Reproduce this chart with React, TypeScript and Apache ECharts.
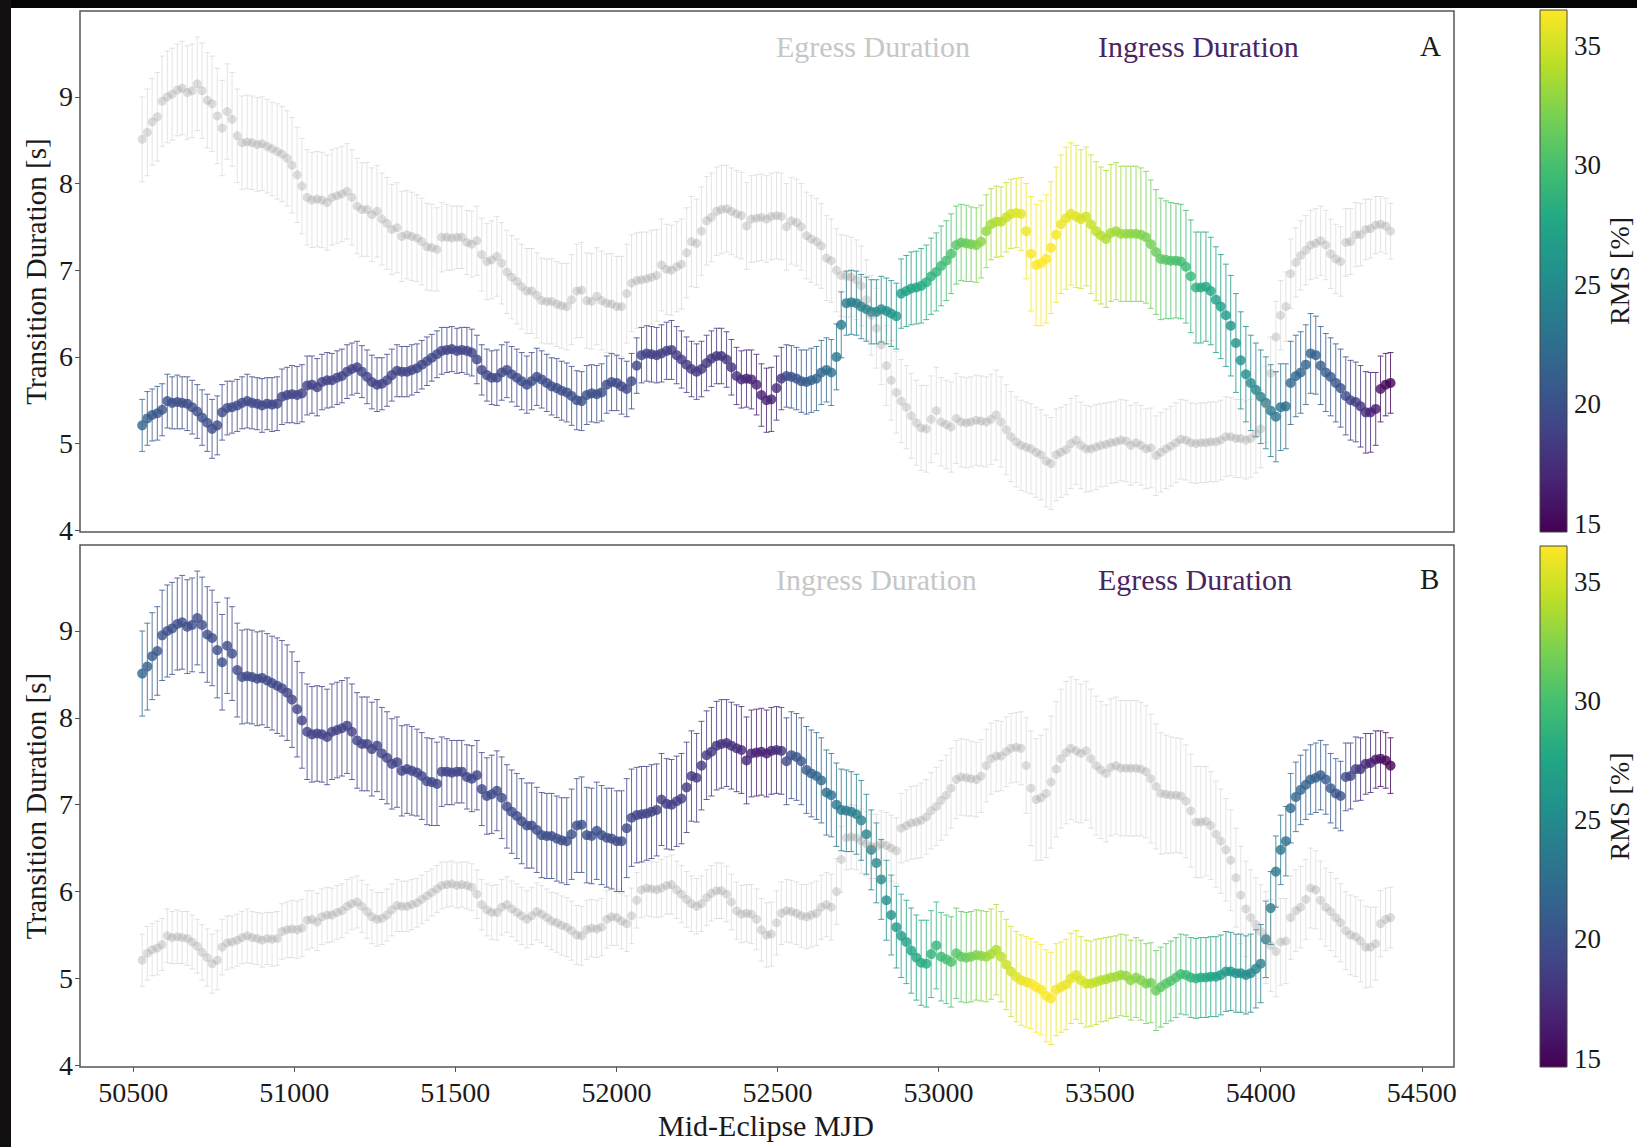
import React, { useEffect, useRef } from 'react';
import * as echarts from 'echarts';

// ---------------- data ----------------
const MJD = [
  50528, 50544, 50559, 50575, 50590, 50606, 50621, 50637, 50652, 50668,
  50683, 50699, 50714, 50730, 50745, 50761, 50776, 50792, 50807, 50823,
  50838, 50854, 50869, 50885, 50900, 50916, 50931, 50947, 50962, 50978,
  50993, 51009, 51024, 51040, 51055, 51071, 51086, 51102, 51117, 51133,
  51148, 51164, 51179, 51195, 51210, 51226, 51241, 51257, 51272, 51288,
  51303, 51319, 51334, 51350, 51365, 51381, 51396, 51412, 51427, 51443,
  51458, 51474, 51489, 51505, 51520, 51536, 51551, 51567, 51582, 51598,
  51613, 51629, 51644, 51660, 51675, 51691, 51706, 51722, 51737, 51753,
  51768, 51784, 51799, 51815, 51830, 51846, 51861, 51877, 51892, 51908,
  51923, 51939, 51954, 51970, 51985, 52001, 52016, 52032, 52047, 52063,
  52078, 52094, 52109, 52125, 52140, 52156, 52171, 52187, 52202, 52218,
  52233, 52249, 52264, 52280, 52295, 52311, 52326, 52342, 52357, 52373,
  52388, 52404, 52419, 52435, 52450, 52466, 52481, 52497, 52512, 52528,
  52543, 52559, 52574, 52590, 52605, 52621, 52636, 52652, 52667, 52683,
  52698, 52714, 52729, 52745, 52760, 52776, 52791, 52807, 52822, 52838,
  52853, 52869, 52884, 52900, 52915, 52931, 52946, 52962, 52977, 52993,
  53008, 53024, 53039, 53055, 53070, 53086, 53101, 53117, 53132, 53148,
  53163, 53179, 53194, 53210, 53225, 53241, 53256, 53272, 53287, 53303,
  53318, 53334, 53349, 53365, 53380, 53396, 53411, 53427, 53442, 53458,
  53473, 53489, 53504, 53520, 53535, 53551, 53566, 53582, 53597, 53613,
  53628, 53644, 53659, 53675, 53690, 53706, 53721, 53737, 53752, 53768,
  53783, 53799, 53814, 53830, 53845, 53861, 53876, 53892, 53907, 53923,
  53938, 53954, 53969, 53985, 54000, 54016, 54031, 54047, 54062, 54078,
  54093, 54109, 54124, 54140, 54155, 54171, 54186, 54202, 54217, 54233,
  54248, 54264, 54279, 54295, 54310, 54326, 54341, 54357, 54372, 54388,
  54403,
];

const INGRESS = [
  5.21, 5.29, 5.33, 5.35, 5.39, 5.49, 5.47, 5.48, 5.47, 5.46,
  5.42, 5.37, 5.30, 5.24, 5.17, 5.21, 5.36, 5.41, 5.42, 5.44,
  5.47, 5.49, 5.47, 5.46, 5.44, 5.46, 5.45, 5.46, 5.54, 5.56,
  5.57, 5.56, 5.58, 5.67, 5.68, 5.65, 5.71, 5.73, 5.73, 5.76,
  5.78, 5.83, 5.86, 5.88, 5.83, 5.77, 5.71, 5.68, 5.69, 5.73,
  5.79, 5.84, 5.83, 5.83, 5.85, 5.87, 5.91, 5.95, 5.99, 6.03,
  6.07, 6.08, 6.09, 6.07, 6.08, 6.07, 6.05, 5.97, 5.85, 5.79,
  5.76, 5.76, 5.82, 5.85, 5.80, 5.76, 5.72, 5.68, 5.72, 5.77,
  5.74, 5.70, 5.66, 5.64, 5.61, 5.59, 5.55, 5.50, 5.49, 5.56,
  5.58, 5.57, 5.59, 5.68, 5.71, 5.70, 5.66, 5.63, 5.72, 5.90,
  6.02, 6.04, 6.03, 6.02, 6.04, 6.07, 6.08, 6.02, 5.97, 5.91,
  5.86, 5.83, 5.86, 5.93, 5.98, 6.01, 6.01, 5.97, 5.88, 5.78,
  5.74, 5.75, 5.74, 5.68, 5.56, 5.50, 5.51, 5.64, 5.75, 5.78,
  5.77, 5.75, 5.72, 5.71, 5.73, 5.75, 5.82, 5.85, 5.82, 6.00,
  6.37, 6.62, 6.63, 6.62, 6.58, 6.55, 6.52, 6.52, 6.55, 6.53,
  6.50, 6.47, 6.73, 6.76, 6.79, 6.80, 6.82, 6.86, 6.93, 6.98,
  7.05, 7.11, 7.19, 7.29, 7.32, 7.31, 7.30, 7.29, 7.33, 7.45,
  7.53, 7.56, 7.56, 7.61, 7.65, 7.66, 7.65, 7.45, 7.19, 7.06,
  7.08, 7.13, 7.26, 7.41, 7.53, 7.60, 7.65, 7.62, 7.59, 7.62,
  7.53, 7.45, 7.40, 7.36, 7.43, 7.45, 7.42, 7.42, 7.42, 7.42,
  7.41, 7.38, 7.30, 7.21, 7.13, 7.12, 7.11, 7.11, 7.10, 7.04,
  6.93, 6.80, 6.80, 6.81, 6.76, 6.66, 6.58, 6.48, 6.36, 6.16,
  5.96, 5.80, 5.70, 5.62, 5.54, 5.47, 5.38, 5.31, 5.42, 5.43,
  5.70, 5.78, 5.82, 5.91, 6.04, 6.02, 5.90, 5.82, 5.77, 5.70,
  5.64, 5.55, 5.50, 5.48, 5.43, 5.36, 5.36, 5.40, 5.63, 5.68,
  5.70,
];

const INGRESS_ERR = [
  0.30, 0.31, 0.30, 0.31, 0.30, 0.31, 0.30, 0.31, 0.30, 0.31,
  0.31, 0.31, 0.32, 0.33, 0.34, 0.34, 0.32, 0.31, 0.30, 0.30,
  0.30, 0.31, 0.30, 0.30, 0.31, 0.30, 0.31, 0.31, 0.32, 0.32,
  0.33, 0.33, 0.33, 0.34, 0.33, 0.33, 0.32, 0.32, 0.31, 0.31,
  0.31, 0.31, 0.30, 0.30, 0.30, 0.31, 0.31, 0.31, 0.30, 0.30,
  0.30, 0.30, 0.29, 0.29, 0.29, 0.28, 0.28, 0.28, 0.27, 0.27,
  0.27, 0.26, 0.26, 0.26, 0.26, 0.27, 0.27, 0.28, 0.29, 0.30,
  0.31, 0.32, 0.32, 0.32, 0.32, 0.33, 0.33, 0.33, 0.33, 0.33,
  0.33, 0.33, 0.33, 0.34, 0.34, 0.34, 0.34, 0.34, 0.34, 0.34,
  0.33, 0.33, 0.33, 0.33, 0.33, 0.32, 0.32, 0.32, 0.32, 0.32,
  0.32, 0.32, 0.32, 0.32, 0.33, 0.33, 0.34, 0.33, 0.33, 0.32,
  0.32, 0.32, 0.32, 0.32, 0.32, 0.32, 0.32, 0.32, 0.32, 0.33,
  0.33, 0.33, 0.34, 0.35, 0.36, 0.37, 0.37, 0.37, 0.36, 0.36,
  0.36, 0.36, 0.36, 0.37, 0.37, 0.37, 0.37, 0.37, 0.38, 0.38,
  0.38, 0.37, 0.37, 0.37, 0.37, 0.37, 0.37, 0.37, 0.38, 0.38,
  0.38, 0.38, 0.40, 0.41, 0.42, 0.42, 0.43, 0.43, 0.44, 0.45,
  0.46, 0.46, 0.46, 0.45, 0.44, 0.44, 0.43, 0.43, 0.42, 0.42,
  0.41, 0.41, 0.40, 0.40, 0.40, 0.40, 0.42, 0.55, 0.66, 0.70,
  0.72, 0.74, 0.76, 0.78, 0.80, 0.82, 0.82, 0.82, 0.80, 0.80,
  0.80, 0.80, 0.79, 0.79, 0.79, 0.79, 0.78, 0.78, 0.78, 0.78,
  0.77, 0.76, 0.74, 0.72, 0.70, 0.68, 0.67, 0.66, 0.66, 0.65,
  0.65, 0.64, 0.64, 0.63, 0.62, 0.61, 0.60, 0.59, 0.58, 0.57,
  0.56, 0.55, 0.55, 0.54, 0.54, 0.53, 0.53, 0.52, 0.50, 0.49,
  0.48, 0.47, 0.47, 0.46, 0.46, 0.45, 0.45, 0.45, 0.45, 0.45,
  0.45, 0.45, 0.46, 0.46, 0.47, 0.47, 0.46, 0.42, 0.38, 0.36,
  0.35,
];

const EGRESS = [
  8.51, 8.59, 8.71, 8.77, 8.95, 9.00, 9.03, 9.08, 9.10, 9.05,
  9.07, 9.15, 9.07, 8.96, 8.92, 8.78, 8.64, 8.83, 8.74, 8.55,
  8.47, 8.48, 8.47, 8.45, 8.46, 8.43, 8.40, 8.37, 8.34, 8.29,
  8.21, 8.10, 7.97, 7.84, 7.81, 7.82, 7.81, 7.78, 7.84, 7.86,
  7.88, 7.91, 7.84, 7.74, 7.70, 7.70, 7.64, 7.68, 7.59, 7.54,
  7.47, 7.49, 7.39, 7.41, 7.39, 7.37, 7.33, 7.27, 7.26, 7.24,
  7.38, 7.38, 7.37, 7.38, 7.38, 7.32, 7.30, 7.34, 7.18, 7.10,
  7.12, 7.16, 7.08, 6.98, 6.92, 6.87, 6.81, 6.76, 6.76, 6.71,
  6.65, 6.64, 6.64, 6.61, 6.59, 6.58, 6.66, 6.76, 6.77, 6.65,
  6.64, 6.70, 6.65, 6.62, 6.61, 6.58, 6.58, 6.73, 6.85, 6.88,
  6.89, 6.90, 6.92, 6.94, 7.06, 7.01, 7.00, 7.04, 7.07, 7.20,
  7.33, 7.31, 7.45, 7.57, 7.61, 7.68, 7.70, 7.71, 7.68, 7.65,
  7.63, 7.51, 7.59, 7.60, 7.61, 7.59, 7.62, 7.63, 7.62, 7.50,
  7.57, 7.55, 7.50, 7.40, 7.36, 7.33, 7.28, 7.14, 7.11, 7.00,
  6.94, 6.93, 6.92, 6.89, 6.82, 6.66, 6.48, 6.33, 6.14, 5.90,
  5.73, 5.59, 5.49, 5.42, 5.32, 5.24, 5.18, 5.17, 5.28, 5.38,
  5.25, 5.22, 5.19, 5.29, 5.25, 5.24, 5.25, 5.27, 5.26, 5.25,
  5.28, 5.33, 5.25, 5.16, 5.08, 5.02, 4.98, 4.96, 4.94, 4.90,
  4.87, 4.80, 4.77, 4.87, 4.90, 4.93, 5.00, 5.04, 4.98, 4.94,
  4.94, 4.96, 4.98, 4.99, 5.01, 5.02, 5.04, 5.03, 4.98, 5.01,
  4.98, 4.94, 4.95, 4.86, 4.90, 4.94, 4.97, 5.01, 5.05, 5.04,
  5.01, 5.00, 5.01, 5.01, 5.02, 5.02, 5.04, 5.08, 5.08, 5.06,
  5.06, 5.04, 5.06, 5.11, 5.17, 5.45, 5.81, 6.23, 6.48, 6.58,
  6.96, 7.09, 7.17, 7.23, 7.29, 7.31, 7.34, 7.29, 7.19, 7.13,
  7.10, 7.32, 7.33, 7.41, 7.41, 7.47, 7.48, 7.52, 7.53, 7.51,
  7.45,
];

const EGRESS_ERR = [
  0.49, 0.50, 0.50, 0.51, 0.52, 0.53, 0.53, 0.53, 0.54, 0.54,
  0.54, 0.54, 0.55, 0.55, 0.55, 0.55, 0.55, 0.55, 0.54, 0.54,
  0.54, 0.54, 0.54, 0.54, 0.54, 0.54, 0.54, 0.55, 0.55, 0.55,
  0.55, 0.55, 0.55, 0.55, 0.55, 0.55, 0.55, 0.55, 0.55, 0.55,
  0.55, 0.55, 0.55, 0.55, 0.54, 0.54, 0.54, 0.53, 0.53, 0.53,
  0.52, 0.52, 0.52, 0.51, 0.51, 0.50, 0.50, 0.50, 0.50, 0.48,
  0.40, 0.38, 0.37, 0.36, 0.36, 0.37, 0.38, 0.40, 0.42, 0.44,
  0.45, 0.46, 0.47, 0.48, 0.48, 0.49, 0.49, 0.49, 0.49, 0.49,
  0.49, 0.49, 0.49, 0.49, 0.49, 0.50, 0.52, 0.54, 0.55, 0.55,
  0.55, 0.56, 0.57, 0.57, 0.58, 0.58, 0.58, 0.57, 0.56, 0.55,
  0.55, 0.54, 0.54, 0.53, 0.53, 0.52, 0.52, 0.52, 0.52, 0.52,
  0.52, 0.51, 0.51, 0.51, 0.51, 0.51, 0.51, 0.50, 0.50, 0.50,
  0.50, 0.50, 0.50, 0.50, 0.50, 0.50, 0.50, 0.50, 0.50, 0.50,
  0.50, 0.50, 0.50, 0.50, 0.50, 0.50, 0.49, 0.49, 0.48, 0.48,
  0.47, 0.47, 0.46, 0.46, 0.46, 0.46, 0.46, 0.46, 0.46, 0.46,
  0.46, 0.47, 0.48, 0.48, 0.49, 0.49, 0.49, 0.50, 0.50, 0.50,
  0.51, 0.51, 0.52, 0.52, 0.52, 0.52, 0.52, 0.52, 0.52, 0.52,
  0.52, 0.52, 0.52, 0.52, 0.52, 0.52, 0.52, 0.52, 0.52, 0.52,
  0.52, 0.53, 0.53, 0.53, 0.52, 0.52, 0.52, 0.51, 0.50, 0.50,
  0.49, 0.49, 0.48, 0.48, 0.47, 0.47, 0.47, 0.47, 0.46, 0.46,
  0.46, 0.46, 0.46, 0.46, 0.46, 0.46, 0.46, 0.46, 0.46, 0.46,
  0.46, 0.46, 0.46, 0.46, 0.46, 0.46, 0.46, 0.46, 0.45, 0.45,
  0.45, 0.45, 0.45, 0.45, 0.45, 0.44, 0.42, 0.41, 0.40, 0.40,
  0.40, 0.40, 0.40, 0.40, 0.40, 0.40, 0.40, 0.40, 0.40, 0.40,
  0.40, 0.39, 0.38, 0.37, 0.36, 0.35, 0.34, 0.33, 0.32, 0.32,
  0.32,
];

const RMS = [
  21.8, 21.2, 20.8, 20.5, 20.3, 20.1, 20.0, 19.9, 19.8, 19.8,
  19.8, 19.8, 19.8, 19.8, 19.7, 19.7, 19.7, 19.6, 19.6, 19.6,
  19.5, 19.5, 19.5, 19.4, 19.4, 19.3, 19.3, 19.2, 19.2, 19.1,
  19.1, 19.1, 19.0, 19.0, 19.0, 18.9, 18.9, 18.9, 18.9, 18.9,
  18.9, 18.9, 18.9, 19.0, 19.0, 19.0, 19.0, 19.0, 19.1, 19.1,
  19.1, 19.1, 19.2, 19.2, 19.2, 19.2, 19.2, 19.3, 19.3, 19.3,
  19.2, 19.1, 19.1, 19.0, 19.0, 19.0, 19.1, 19.2, 19.3, 19.4,
  19.4, 19.5, 19.5, 19.6, 19.6, 19.6, 19.6, 19.7, 19.7, 19.7,
  19.7, 19.7, 19.7, 19.8, 19.8, 19.8, 19.9, 19.9, 20.0, 20.0,
  20.0, 19.9, 19.9, 19.8, 19.7, 19.6, 19.5, 19.4, 19.3, 19.2,
  19.1, 19.0, 18.9, 18.8, 18.8, 18.7, 18.7, 18.6, 18.6, 18.5,
  18.4, 18.3, 18.3, 18.2, 18.1, 18.0, 17.9, 17.8, 17.7, 17.6,
  17.2, 17.0, 16.9, 16.8, 16.7, 16.7, 16.9, 17.3, 17.8, 19.5,
  20.0, 20.3, 20.6, 20.9, 21.3, 21.7, 22.1, 22.5, 22.8, 23.1,
  23.4, 23.6, 23.8, 24.0, 24.2, 24.4, 24.6, 24.9, 25.2, 25.5,
  25.8, 26.2, 26.6, 27.0, 27.3, 27.6, 27.9, 28.2, 28.6, 29.0,
  29.4, 29.8, 30.2, 30.6, 31.0, 31.4, 31.8, 32.2, 32.6, 33.0,
  33.4, 33.8, 34.2, 34.6, 35.0, 35.4, 35.7, 36.0, 36.3, 36.5,
  36.5, 36.4, 36.3, 36.2, 36.0, 35.8, 35.6, 35.4, 35.2, 35.0,
  34.7, 34.4, 34.1, 33.8, 33.6, 33.4, 33.2, 33.0, 32.8, 32.6,
  32.4, 32.1, 31.8, 31.4, 31.0, 30.7, 30.4, 30.1, 29.8, 29.4,
  29.0, 28.6, 28.2, 27.8, 27.4, 27.0, 26.6, 26.3, 26.0, 25.7,
  25.4, 25.1, 24.8, 24.5, 24.2, 23.9, 23.6, 23.3, 23.0, 22.6,
  22.2, 21.9, 21.7, 21.5, 21.4, 21.3, 21.2, 21.0, 20.8, 20.5,
  20.1, 19.6, 19.1, 18.6, 18.0, 17.4, 16.8, 16.2, 15.6, 15.1,
  14.7,
];

const X_TICKS = [50500, 51000, 51500, 52000, 52500, 53000, 53500, 54000, 54500];
const Y_TICKS = [4, 5, 6, 7, 8, 9];
const CB_TICKS = [15, 20, 25, 30, 35];

// ---------------- scales / style ----------------
const X_MIN = 50335;
const X_MAX = 54600;
const Y_MIN = 3.98;
const Y_MAX = 9.99;
const RMS_MIN = 14.65;
const RMS_MAX = 36.5;

const VIRIDIS = [
  '#440154', '#482475', '#414487', '#355f8d', '#2a788e', '#21918c',
  '#22a884', '#44bf70', '#7ad151', '#bddf26', '#fde725',
];
const VIR_RGB = VIRIDIS.map((h) => [
  parseInt(h.slice(1, 3), 16),
  parseInt(h.slice(3, 5), 16),
  parseInt(h.slice(5, 7), 16),
]);
function viridis(v: number, a = 1): string {
  let t = (v - RMS_MIN) / (RMS_MAX - RMS_MIN);
  t = Math.max(0, Math.min(1, t));
  const p = t * (VIR_RGB.length - 1);
  const i = Math.min(VIR_RGB.length - 2, Math.floor(p));
  const f = p - i;
  const c0 = VIR_RGB[i];
  const c1 = VIR_RGB[i + 1];
  const r = Math.round(c0[0] + (c1[0] - c0[0]) * f);
  const g = Math.round(c0[1] + (c1[1] - c0[1]) * f);
  const b = Math.round(c0[2] + (c1[2] - c0[2]) * f);
  return `rgba(${r},${g},${b},${a})`;
}

const FONT = "'Liberation Serif', 'Times New Roman', serif";
const TXT = '#1a1a1a';
const GRAY_TXT = '#c6c6c6';
const PURPLE_TXT = '#4a2461';

const PLOT_L = 80;
const PLOT_W = 1374;
const A_TOP = 11;
const A_H = 521;
const B_TOP = 545;
const B_H = 522;
const CB_L = 1540;
const CB_W = 27;
const CBA_TOP = 10;
const CBA_H = 522;
const CBB_TOP = 546;
const CBB_H = 521;

function errorBars(idx: number, ys: number[], es: number[], colored: boolean, z: number) {
  return {
    type: 'custom',
    xAxisIndex: idx,
    yAxisIndex: idx,
    z,
    clip: true,
    progressive: 0,
    encode: { x: 0, y: 1 },
    data: MJD.map((x, i) => [x, ys[i], es[i], RMS[i]]),
    renderItem: (_params: any, api: any) => {
      const x = api.value(0);
      const y = api.value(1);
      const e = api.value(2);
      const r = api.value(3);
      const hi = api.coord([x, y + e]);
      const lo = api.coord([x, y - e]);
      const stroke = colored ? viridis(r, 0.8) : 'rgba(150,150,150,0.25)';
      const cw = 3;
      const style = { stroke, lineWidth: 1 };
      return {
        type: 'group',
        children: [
          { type: 'line', shape: { x1: hi[0], y1: hi[1], x2: lo[0], y2: lo[1] }, style },
          { type: 'line', shape: { x1: hi[0] - cw, y1: hi[1], x2: hi[0] + cw, y2: hi[1] }, style },
          { type: 'line', shape: { x1: lo[0] - cw, y1: lo[1], x2: lo[0] + cw, y2: lo[1] }, style },
        ],
      };
    },
  };
}

function dots(idx: number, ys: number[], colored: boolean, z: number) {
  return {
    type: 'scatter',
    xAxisIndex: idx,
    yAxisIndex: idx,
    z,
    symbol: 'circle',
    symbolSize: colored ? 10 : 9,
    progressive: 0,
    data: MJD.map((x, i) => [x, ys[i], RMS[i]]),
    itemStyle: {
      color: colored ? (p: any) => viridis(p.value[2], 1) : 'rgba(150,150,150,0.4)',
      borderWidth: 0,
    },
  };
}

function mainYAxis(gridIndex: number) {
  return {
    gridIndex,
    type: 'value',
    min: Y_MIN,
    max: Y_MAX,
    axisLine: { show: false },
    splitLine: { show: false },
    axisTick: {
      show: true,
      customValues: Y_TICKS,
      length: 5,
      lineStyle: { color: '#555', width: 1 },
    },
    axisLabel: {
      show: true,
      customValues: Y_TICKS,
      fontFamily: FONT,
      fontSize: 28,
      color: TXT,
      margin: 7,
      formatter: (v: number) => String(v),
    },
  };
}

function cbYAxis(gridIndex: number) {
  return {
    gridIndex,
    type: 'value',
    position: 'right',
    min: RMS_MIN,
    max: RMS_MAX,
    axisLine: { show: false },
    splitLine: { show: false },
    axisTick: {
      show: true,
      customValues: CB_TICKS,
      length: 5,
      lineStyle: { color: '#444', width: 1 },
    },
    axisLabel: {
      show: true,
      customValues: CB_TICKS,
      fontFamily: FONT,
      fontSize: 27,
      color: TXT,
      margin: 7,
      formatter: (v: number) => String(v),
    },
  };
}

function vText(x: number, y: number, text: string, size: number) {
  return {
    type: 'text',
    x,
    y,
    rotation: Math.PI / 2,
    z: 20,
    style: {
      text,
      fontFamily: FONT,
      fontSize: size,
      fill: TXT,
      textAlign: 'center',
      textVerticalAlign: 'middle',
    },
  };
}

function hText(x: number, y: number, text: string, color: string, size: number, align = 'left') {
  return {
    type: 'text',
    x,
    y,
    z: 20,
    style: {
      text,
      fontFamily: FONT,
      fontSize: size,
      fill: color,
      textAlign: align,
      textVerticalAlign: 'middle',
    },
  };
}

export default function App() {
  const ref = useRef<HTMLDivElement>(null);

  useEffect(() => {
    if (!ref.current) return;
    const chart = echarts.init(ref.current, null, { renderer: 'svg' });

    const cbGradient = () =>
      new echarts.graphic.LinearGradient(
        0, 1, 0, 0,
        VIRIDIS.map((c, i) => ({ offset: i / (VIRIDIS.length - 1), color: c }))
      );

    const option: any = {
      animation: false,
      backgroundColor: '#ffffff',
      grid: [
        { left: PLOT_L, top: A_TOP, width: PLOT_W, height: A_H, show: true, borderColor: '#555', borderWidth: 1.5, backgroundColor: 'transparent' },
        { left: PLOT_L, top: B_TOP, width: PLOT_W, height: B_H, show: true, borderColor: '#555', borderWidth: 1.5, backgroundColor: 'transparent' },
        { left: CB_L, top: CBA_TOP, width: CB_W, height: CBA_H, show: false },
        { left: CB_L, top: CBB_TOP, width: CB_W, height: CBB_H, show: false },
      ],
      xAxis: [
        {
          gridIndex: 0, type: 'value', min: X_MIN, max: X_MAX,
          axisLine: { show: false }, axisTick: { show: false },
          axisLabel: { show: false }, splitLine: { show: false },
        },
        {
          gridIndex: 1, type: 'value', min: X_MIN, max: X_MAX,
          axisLine: { show: false }, splitLine: { show: false },
          axisTick: { show: true, customValues: X_TICKS, length: 5, lineStyle: { color: '#555', width: 1 } },
          axisLabel: {
            show: true, customValues: X_TICKS, fontFamily: FONT, fontSize: 28,
            color: TXT, margin: 11, formatter: (v: number) => String(v),
          },
        },
        { gridIndex: 2, type: 'value', min: 0, max: 1, show: false },
        { gridIndex: 3, type: 'value', min: 0, max: 1, show: false },
      ],
      yAxis: [mainYAxis(0), mainYAxis(1), cbYAxis(2), cbYAxis(3)],
      series: [
        // Panel A: ingress coloured, egress grey
        errorBars(0, INGRESS, INGRESS_ERR, true, 2),
        dots(0, INGRESS, true, 3),
        errorBars(0, EGRESS, EGRESS_ERR, false, 4),
        dots(0, EGRESS, false, 5),
        // Panel B: egress coloured, ingress grey
        errorBars(1, EGRESS, EGRESS_ERR, true, 2),
        dots(1, EGRESS, true, 3),
        errorBars(1, INGRESS, INGRESS_ERR, false, 4),
        dots(1, INGRESS, false, 5),
      ],
      graphic: {
        elements: [
          // colour bars
          {
            type: 'rect', z: 1,
            shape: { x: CB_L, y: CBA_TOP, width: CB_W, height: CBA_H },
            style: { fill: cbGradient(), stroke: '#444', lineWidth: 1 },
          },
          {
            type: 'rect', z: 1,
            shape: { x: CB_L, y: CBB_TOP, width: CB_W, height: CBB_H },
            style: { fill: cbGradient(), stroke: '#444', lineWidth: 1 },
          },
          // axis titles
          vText(36, A_TOP + A_H / 2, 'Transition Duration [s]', 29),
          vText(36, B_TOP + B_H / 2, 'Transition Duration [s]', 29),
          vText(1619, CBA_TOP + CBA_H / 2, 'RMS [%]', 28),
          vText(1619, CBB_TOP + CBB_H / 2, 'RMS [%]', 28),
          hText(766, 1125, 'Mid-Eclipse MJD', TXT, 30, 'center'),
          // in-panel legends
          hText(776, 46, 'Egress Duration', GRAY_TXT, 30),
          hText(1098, 46, 'Ingress Duration', PURPLE_TXT, 30),
          hText(1420, 46, 'A', TXT, 29),
          hText(776, 579, 'Ingress Duration', GRAY_TXT, 30),
          hText(1098, 579, 'Egress Duration', PURPLE_TXT, 30),
          hText(1420, 579, 'B', TXT, 29),
          // screenshot frame
          { type: 'rect', z: 30, shape: { x: 0, y: 0, width: 1637, height: 8 }, style: { fill: '#050505' } },
          { type: 'rect', z: 30, shape: { x: 0, y: 0, width: 11, height: 1147 }, style: { fill: '#121010' } },
        ],
      },
    };

    chart.setOption(option);
    return () => chart.dispose();
  }, []);

  return (
    <div
      ref={ref}
      style={{ position: 'fixed', left: 0, top: 0, width: 1637, height: 1147, background: '#fff' }}
    />
  );
}
